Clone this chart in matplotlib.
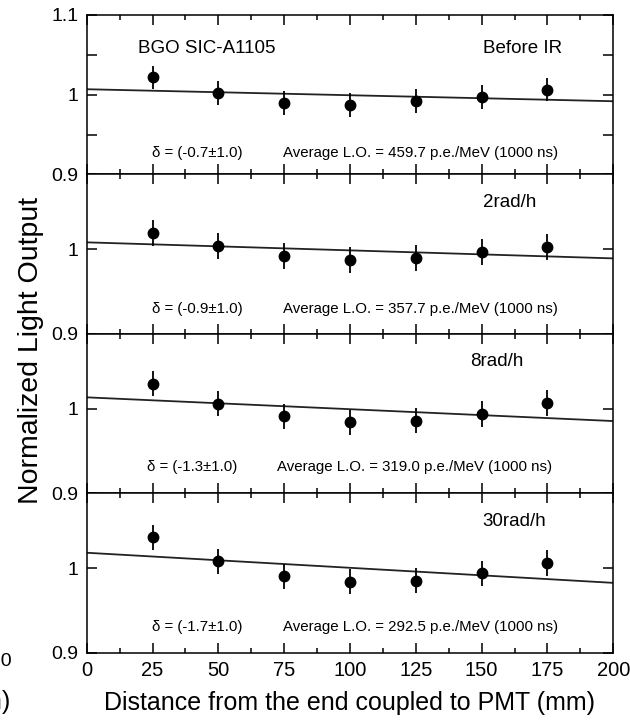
import numpy as np
import matplotlib
matplotlib.use("Agg")
import matplotlib.pyplot as plt
from matplotlib.ticker import FixedLocator, FixedFormatter

plt.rcParams["font.family"] = ["Liberation Sans", "DejaVu Sans"]

# Positions along the crystal (mm)
positions = [25, 50, 75, 100, 125, 150, 175]

# Normalized light output per irradiation step
lo_before = [1.0216, 1.0023, 0.9890, 0.9868, 0.9918, 0.9972, 1.0065]
lo_2rad = [1.0194, 1.0040, 0.9921, 0.9874, 0.9897, 0.9968, 1.0028]
lo_8rad = [1.0297, 1.0060, 0.9909, 0.9838, 0.9858, 0.9937, 1.0068]
lo_30rad = [1.0364, 1.0080, 0.9902, 0.9838, 0.9850, 0.9937, 1.0060]
lo_err = [0.015, 0.015, 0.015, 0.015, 0.015, 0.015, 0.015]

conditions = ["Before IR", "2rad/h", "8rad/h", "30rad/h"]
deltas = ["(-0.7\u00b11.0)", "(-0.9\u00b11.0)", "(-1.3\u00b11.0)", "(-1.7\u00b11.0)"]
avg_lo = ["459.7", "357.7", "319.0", "292.5"]

series = [lo_before, lo_2rad, lo_8rad, lo_30rad]

# text placement per panel (x in mm, y in axes fraction)
label_x = [150.4, 150.4, 145.6, 150.4]
label_y = [0.792, 0.826, 0.827, 0.825]
delta_x = [24.7, 24.7, 22.8, 24.7]
avg_x = [74.7, 74.7, 72.2, 74.7]
info_y = [0.137, 0.158, 0.161, 0.162]

fig, axes = plt.subplots(4, 1, sharex=True, figsize=(6.3, 7.21), dpi=100)
fig.subplots_adjust(left=0.1376, right=0.9735, top=0.9792, bottom=0.095, hspace=0)

for i, ax in enumerate(axes):
    y = np.array(series[i])
    x = np.array(positions)

    ax.errorbar(x, y, yerr=lo_err, fmt="o", color="black", markersize=7.5,
                elinewidth=1.3, capsize=0, zorder=3)

    # linear fit along the crystal
    slope, icept = np.polyfit(x, y, 1)
    xf = np.array([0, 200])
    ax.plot(xf, icept + slope * xf, color="#222222", lw=1.3, zorder=2)

    ax.set_xlim(0, 200)
    if i == 0:
        ax.set_ylim(0.9, 1.1)
        ax.yaxis.set_major_locator(FixedLocator([0.9, 1.0, 1.1]))
        ax.yaxis.set_major_formatter(FixedFormatter(["0.9", "1", "1.1"]))
        ax.yaxis.set_minor_locator(FixedLocator([0.95, 1.05]))
    else:
        ax.set_ylim(0.9, 1.089)
        ax.yaxis.set_major_locator(FixedLocator([0.9, 1.0]))
        ax.yaxis.set_major_formatter(FixedFormatter(["0.9", "1"]))
        ax.yaxis.set_minor_locator(FixedLocator([]))

    ax.xaxis.set_major_locator(FixedLocator(np.arange(0, 201, 25)))
    ax.xaxis.set_minor_locator(FixedLocator(np.arange(12.5, 200, 25)))

    ax.tick_params(which="both", direction="in", top=True, right=True,
                   width=1.1, colors="black", pad=6)
    ax.tick_params(which="major", length=7)
    ax.tick_params(which="minor", length=3.8)
    ax.tick_params(axis="y", which="both", length=7, labelsize=14)
    ax.tick_params(axis="x", labelsize=14.5)
    for sp in ax.spines.values():
        sp.set_linewidth(1.1)

    trans = ax.get_xaxis_transform()
    if i == 0:
        ax.text(19.5, label_y[i], "BGO SIC-A1105", transform=trans,
                fontsize=13.5, va="center", ha="left")
    ax.text(label_x[i], label_y[i], conditions[i], transform=trans,
            fontsize=13.5, va="center", ha="left")
    ax.text(delta_x[i], info_y[i], "\u03b4 = " + deltas[i],
            transform=trans, fontsize=10.8, va="center", ha="left")
    ax.text(avg_x[i], info_y[i], "Average L.O. = " + avg_lo[i] + " p.e./MeV (1000 ns)",
            transform=trans, fontsize=10.8, va="center", ha="left")

axes[-1].set_xlabel("Distance from the end coupled to PMT (mm)", fontsize=18, labelpad=8)
fig.text(31 / 630, 1 - 350 / 721, "Normalized Light Output", rotation=90,
         fontsize=20.5, va="center", ha="center")

# pieces of the neighbouring plot cut off at the left edge
fig.text(12 / 630, 1 - 662 / 721, "200", fontsize=14, ha="right", va="center")
fig.text(11 / 630, 1 - 702 / 721, "(mm)", fontsize=18, ha="right", va="center")

fig.savefig("out.png", dpi=100)
